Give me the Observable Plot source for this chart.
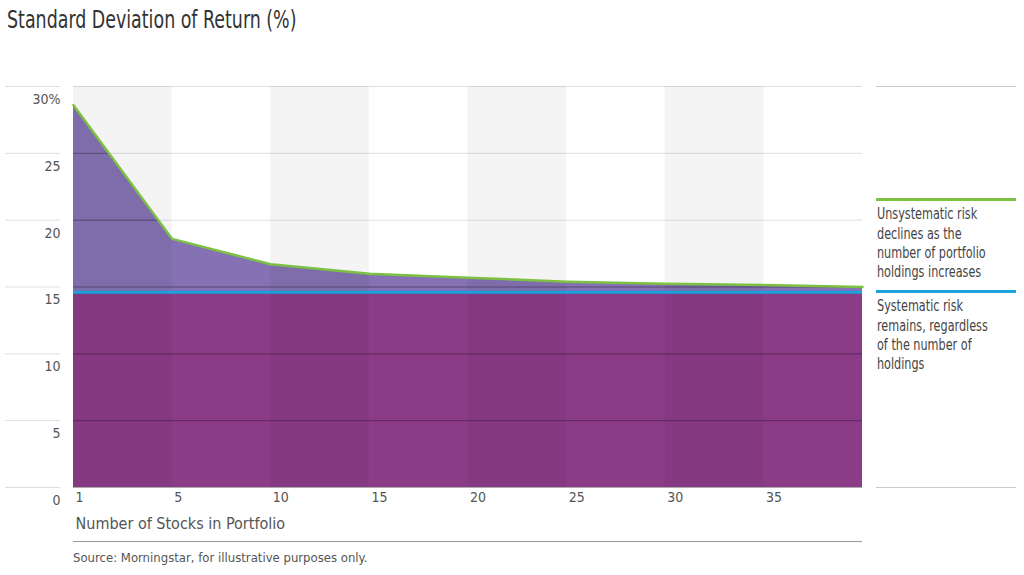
<!DOCTYPE html>
<html>
<head>
<meta charset="utf-8">
<script src="https://cdn.jsdelivr.net/npm/d3@7"></script>
<script src="https://cdn.jsdelivr.net/npm/@observablehq/plot@0.6"></script>
<style>
  body { margin: 0; background: #fff; }
  #wrap { position: relative; width: 1024px; height: 575px; overflow: hidden;
          font-family: "DejaVu Sans Condensed", "DejaVu Sans", sans-serif; }
  #title { position: absolute; left: 7px; top: 7px; font-size: 25px; line-height: 25px; color: #333;
           white-space: nowrap; transform: scaleX(0.775); transform-origin: left top; }
  #chart { position: absolute; left: 0; top: 40px; }
  #source { position: absolute; left: 73px; top: 541px; width: 789px; border-top: 1px solid #999;
            padding-top: 9px; font-size: 13px; line-height: 13px; color: #555; white-space: nowrap; }
  .hline { position: absolute; left: 876px; width: 140px; height: 0; border-top: 1px solid #ccc; }
  .key { position: absolute; left: 876px; width: 140px; height: 0; border-top: 3px solid; }
  .note { position: absolute; left: 877px; font-size: 16px; line-height: 19.3px; color: #444;
          white-space: nowrap; transform: scaleX(0.78); transform-origin: left top; }
</style>
</head>
<body>
<div id="wrap">
  <div id="title"></div>
  <div id="chart"></div>
  <div id="source"></div>
</div>
<script>
// ---- data ----
const stocks = [1, 5, 10, 15, 20, 25, 30, 35, 40];
const totalRisk = [28.6, 18.6, 16.7, 16.0, 15.7, 15.4, 15.25, 15.15, 15.0];
const systematicRisk = 14.6;
const yTicks = [0, 5, 10, 15, 20, 25, 30];
const xTickLabels = [1, 5, 10, 15, 20, 25, 30, 35];
const noteUnsystematic = ["Unsystematic risk", "declines as the", "number of portfolio", "holdings increases"];
const noteSystematic = ["Systematic risk", "remains, regardless", "of the number of", "holdings"];
const titleText = "Standard Deviation of Return (%)";
const xLabel = "Number of Stocks in Portfolio";
const sourceText = "Source: Morningstar, for illustrative purposes only.";

const FONT = '"DejaVu Sans Condensed", "DejaVu Sans", sans-serif';
const data = stocks.map((s, i) => ({stocks: s, total: totalRisk[i], systematic: systematicRisk}));
const bands = d3.pairs(stocks).filter((p, i) => i % 2 === 0).map(([a, b]) => ({from: a, to: b}));

document.getElementById("title").textContent = titleText;
document.getElementById("source").textContent = sourceText;

const chart = Plot.plot({
  width: 1024,
  height: 500,
  marginLeft: 73,
  marginRight: 162,
  marginTop: 46,
  marginBottom: 53,
  style: {fontFamily: FONT, background: "transparent", overflow: "visible"},
  x: {type: "point", domain: stocks, padding: 0, round: false, axis: null},
  y: {type: "linear", domain: [0, 30], axis: null},
  marks: [
    Plot.areaY(data, {x: "stocks", y1: 0, y2: "systematic", fill: "#8c3c87"}),
    Plot.areaY(data, {x: "stocks", y1: "systematic", y2: "total", fill: "#8571b3"}),
    Plot.ruleY(yTicks, {stroke: "#000", strokeOpacity: 0.22}),
    Plot.areaY(data, {x: "stocks", y1: "total", y2: 30, fill: "#fff"}),
    Plot.rect(bands, {x1: "from", x2: "to", y1: 0, y2: 30, fill: "#000", fillOpacity: 0.045}),
    Plot.ruleY(yTicks, {stroke: "#000", strokeOpacity: 0.13}),
    Plot.axisY({ticks: yTicks, tickSize: 55, dx: -13, stroke: "#000", strokeOpacity: 0.13, fill: "none", label: null}),
    Plot.axisY({ticks: yTicks, tickSize: 0, tickPadding: 13, dy: 13, fontSize: 14, fill: "#555",
                tickFormat: d => d === 30 ? "30%" : String(d), label: null}),
    Plot.axisX({ticks: xTickLabels, tickSize: 0, tickPadding: 5, textAnchor: "start", dx: 2,
                fontSize: 14, fill: "#555", label: null}),
    Plot.text([xLabel], {frameAnchor: "bottom-left", textAnchor: "start", lineAnchor: "top",
                         dy: 30, dx: 2, fontSize: 16, fill: "#555"}),
    Plot.ruleY([systematicRisk], {stroke: "#1ba1db", strokeWidth: 3}),
    Plot.lineY(data, {x: "stocks", y: "total", stroke: "#7cc142", strokeWidth: 2.5})
  ]
});
document.getElementById("chart").append(chart);

// ---- right-hand annotation, positioned with the chart's own y scale ----
const wrap = document.getElementById("wrap");
const svgTop = 40;
const yScale = chart.scale("y");
for (const v of [30, 0]) {
  const l = document.createElement("div");
  l.className = "hline";
  l.style.top = (svgTop + yScale.apply(v) - 0.5) + "px";
  wrap.append(l);
}
const blueY = svgTop + yScale.apply(systematicRisk);
function note(lines, color, center) {
  const k = document.createElement("div");
  k.className = "key";
  k.style.borderTopColor = color;
  k.style.top = (center - 1.5) + "px";
  wrap.append(k);
  const t = document.createElement("div");
  t.className = "note";
  t.style.top = (center + 4.4) + "px";
  t.innerHTML = lines.join("<br>");
  wrap.append(t);
}
note(noteUnsystematic, "#7cc142", blueY - 92);
note(noteSystematic, "#1ba1db", blueY);
</script>
</body>
</html>
